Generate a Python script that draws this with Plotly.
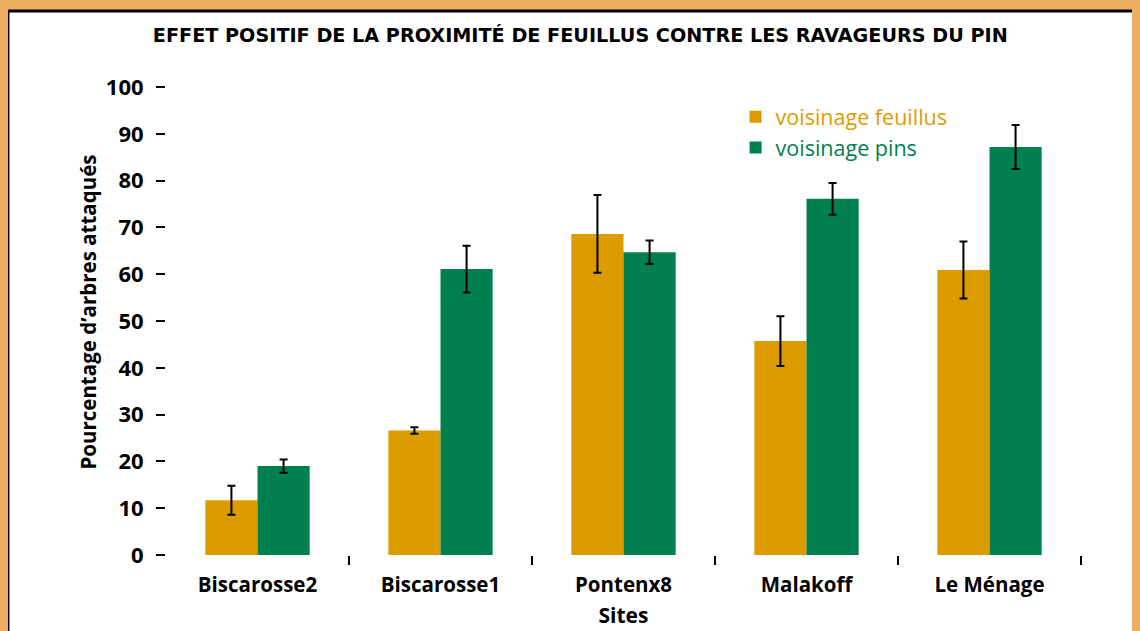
import plotly.graph_objects as go

sites = ["Biscarosse2", "Biscarosse1", "Pontenx8", "Malakoff", "Le Ménage"]
feuillus = [11.7, 26.6, 68.6, 45.7, 60.9]
feuillus_err = [3.1, 0.7, 8.3, 5.3, 6.1]
pins = [19.0, 61.1, 64.7, 76.1, 87.2]
pins_err = [1.4, 5.0, 2.5, 3.4, 4.7]
y_ticks = [0, 10, 20, 30, 40, 50, 60, 70, 80, 90, 100]

ORANGE = "#DC9C00"
GREEN = "#00804E"
BG = "#EFAE62"
FONT = "Open Sans"

xpos = list(range(len(sites)))

fig = go.Figure()
fig.add_trace(go.Bar(
    x=xpos, y=feuillus, name=f'<span style="color:{ORANGE}">voisinage feuillus</span>',
    marker=dict(color=ORANGE, line=dict(width=0)),
    error_y=dict(type="data", array=feuillus_err, color="black", thickness=2, width=4),
))
fig.add_trace(go.Bar(
    x=xpos, y=pins, name=f'<span style="color:{GREEN}">voisinage pins</span>',
    marker=dict(color=GREEN, line=dict(width=0)),
    error_y=dict(type="data", array=pins_err, color="black", thickness=2, width=4),
))
# dummy trace for boundary ticks axis
fig.add_trace(go.Scatter(x=[None], y=[None], xaxis="x2", showlegend=False, hoverinfo="skip"))

fig.update_layout(
    width=1140, height=631,
    margin=dict(l=158, r=67, t=79, b=84, autoexpand=False),
    paper_bgcolor=BG,
    plot_bgcolor="rgba(0,0,0,0)",
    barmode="group",
    bargap=0.43,
    bargroupgap=0,
    font=dict(family=FONT, color="black"),
    title=dict(
        text="<b>EFFET POSITIF DE LA PROXIMITÉ DE FEUILLUS CONTRE LES RAVAGEURS DU PIN</b>",
        x=0.502, xanchor="center", y=0.957, yanchor="middle",
        font=dict(family="DejaVu Sans", size=19.2, color="black"),
    ),
    xaxis=dict(
        range=[-0.5, 4.5], tickvals=xpos, ticktext=[f"<b>{s}</b>" for s in sites],
        ticks="", showgrid=False, zeroline=False, showline=False, automargin=False,
        tickfont=dict(size=20.5, color="black"), ticklabelstandoff=15,
        title=dict(text="<b>Sites</b>", font=dict(size=21, color="black"), standoff=11),
    ),
    xaxis2=dict(
        range=[-0.5, 4.5], overlaying="x", side="bottom", anchor="y",
        tickvals=[0.5, 1.5, 2.5, 3.5, 4.5], showticklabels=False,
        ticks="outside", ticklen=9, tickwidth=2, tickcolor="black", automargin=False,
        showgrid=False, zeroline=False, showline=False,
    ),
    yaxis=dict(
        range=[0, 100], tickvals=y_ticks, ticktext=[f"<b>{v}</b>" for v in y_ticks],
        ticks="outside", ticklen=9, tickwidth=2, tickcolor="black",
        ticklabelstandoff=8, automargin=False,
        showgrid=False, zeroline=False, showline=False,
        tickfont=dict(size=22, color="black"),
    ),
    annotations=[dict(
        text="<b>Pourcentage d’arbres attaqués</b>", textangle=-90,
        xref="paper", yref="paper", x=-0.0852, y=0.518,
        xanchor="center", yanchor="middle", showarrow=False,
        font=dict(family=FONT, size=20.5, color="black"),
    )],
    legend=dict(
        x=0.6225, y=0.9804, xanchor="left", yanchor="top",
        bgcolor="rgba(0,0,0,0)", font=dict(size=21.5, weight=500), traceorder="normal",
        itemwidth=30, tracegroupgap=4,
    ),
    shapes=[dict(
        type="rect", xref="paper", yref="paper", layer="below",
        x0=-0.1727, x1=1.08, y0=-0.2, y1=1.1624,
        fillcolor="white", line=dict(color="black", width=3),
    )],
)

fig.write_html("out.html", post_script=f"document.body.style.backgroundColor='{BG}';")
